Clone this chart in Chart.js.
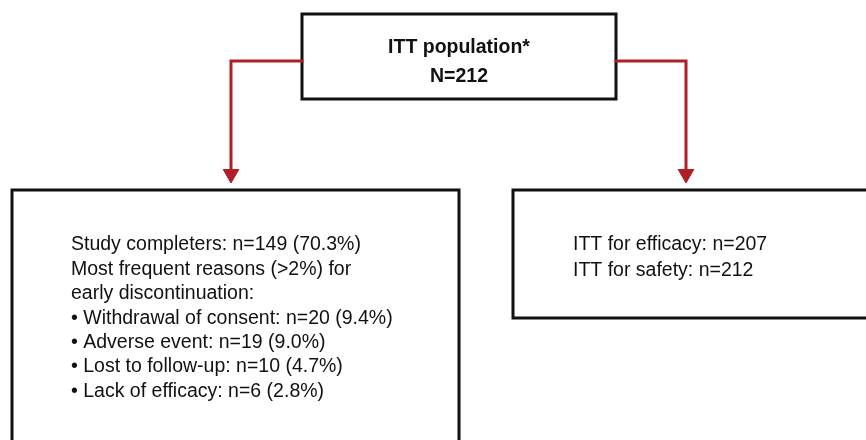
<!DOCTYPE html>
<html>
<head>
<meta charset="utf-8">
<script src="https://cdn.jsdelivr.net/npm/chart.js@4.4.0/dist/chart.umd.min.js"></script>
<style>
  html, body { margin: 0; padding: 0; background: #fff; }
  #wrap { width: 866px; height: 440px; }
</style>
</head>
<body>
<div id="wrap"><canvas id="flow" width="866" height="440"></canvas></div>
<script>
// Flow diagram data (page units: x 0..866, y 0..440 from top)
const topLines = ['ITT population*', 'N=212'];
const leftLines = [
    'Study completers: n=149 (70.3%)',
    'Most frequent reasons (>2%) for',
    'early discontinuation:',
    '\u2022 Withdrawal of consent: n=20 (9.4%)',
    '\u2022 Adverse event: n=19 (9.0%)',
    '\u2022 Lost to follow-up: n=10 (4.7%)',
    '\u2022 Lack of efficacy: n=6 (2.8%)'
];
const rightLines = ['ITT for efficacy: n=207', 'ITT for safety: n=212'];

// box outlines as closed paths
const topBox = [{x: 302, y: 14}, {x: 616, y: 14}, {x: 616, y: 99}, {x: 302, y: 99}, {x: 302, y: 14}];
const leftBox = [{x: 12, y: 460}, {x: 12, y: 190}, {x: 459, y: 190}, {x: 459, y: 460}];
const rightBox = [{x: 880, y: 190}, {x: 513, y: 190}, {x: 513, y: 318}, {x: 880, y: 318}];

// connectors and arrow heads
const leftArrow = [{x: 302, y: 61}, {x: 231, y: 61}, {x: 231, y: 170}];
const rightArrow = [{x: 616, y: 61}, {x: 686, y: 61}, {x: 686, y: 170}];
const arrowHeads = [{x: 231, y: 174}, {x: 686, y: 174}];

const RED = '#b01f28';
const BLACK = '#111';
const FONT = '"Liberation Sans", Arial, Helvetica, sans-serif';

function lineSet(points, color, width) {
    return {
        data: points,
        showLine: true,
        borderColor: color,
        borderWidth: width,
        pointRadius: 0,
        pointHoverRadius: 0,
        fill: false,
        tension: 0,
        borderJoinStyle: 'miter',
        borderCapStyle: 'square'
    };
}

// draws the box text at scale positions
const textPlugin = {
    id: 'boxText',
    afterDatasetsDraw(chart) {
        const ctx = chart.ctx;
        const xs = chart.scales.x;
        const ys = chart.scales.y;
        ctx.save();
        ctx.fillStyle = '#111';
        ctx.textBaseline = 'middle';

        ctx.font = 'bold 19.5px ' + FONT;
        ctx.textAlign = 'center';
        topLines.forEach((t, i) => {
            ctx.fillText(t, xs.getPixelForValue(459), ys.getPixelForValue(48 + i * 29));
        });

        ctx.font = '19.5px ' + FONT;
        ctx.textAlign = 'left';
        leftLines.forEach((t, i) => {
            ctx.fillText(t, xs.getPixelForValue(71), ys.getPixelForValue(245 + i * 24.4));
        });
        rightLines.forEach((t, i) => {
            ctx.fillText(t, xs.getPixelForValue(573), ys.getPixelForValue(245 + i * 25.5));
        });
        ctx.restore();
    }
};

new Chart(document.getElementById('flow'), {
    type: 'scatter',
    data: {
        datasets: [
            lineSet(leftArrow, RED, 3),
            lineSet(rightArrow, RED, 3),
            {
                data: arrowHeads,
                showLine: false,
                pointStyle: 'triangle',
                rotation: 180,
                pointRadius: 9,
                pointHoverRadius: 9,
                backgroundColor: RED,
                borderColor: RED,
                borderWidth: 1
            },
            lineSet(topBox, BLACK, 3),
            lineSet(leftBox, BLACK, 3),
            lineSet(rightBox, BLACK, 3)
        ]
    },
    options: {
        responsive: false,
        animation: false,
        events: [],
        layout: { padding: 0, autoPadding: false },
        plugins: { legend: { display: false }, tooltip: { enabled: false } },
        scales: {
            x: { type: 'linear', min: 0, max: 866, display: false },
            y: { type: 'linear', min: 0, max: 440, reverse: true, display: false }
        }
    },
    plugins: [textPlugin]
});
</script>
</body>
</html>
